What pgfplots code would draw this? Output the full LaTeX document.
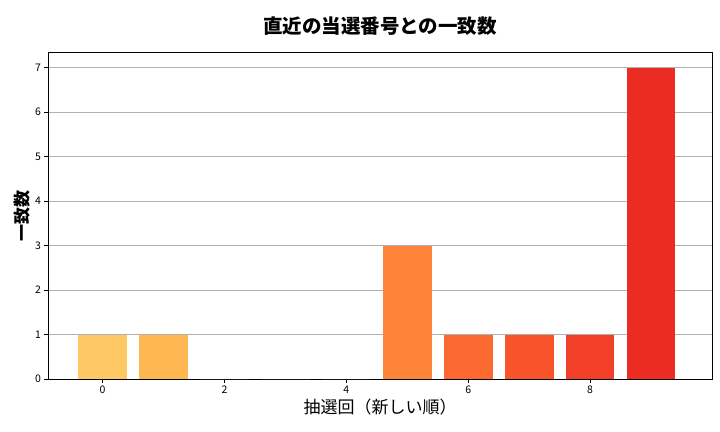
\documentclass[border=0pt]{standalone}
\usepackage{fontspec}
\setmainfont{Noto Sans CJK JP}
\usepackage{pgfplots}
\pgfplotsset{compat=1.18}
\definecolor{c0}{HTML}{FEC965}
\definecolor{c1}{HTML}{FEB751}
\definecolor{c2}{HTML}{FEA546}
\definecolor{c3}{HTML}{FD9540}
\definecolor{c4}{HTML}{FD8A3B}
\definecolor{c5}{HTML}{FD8438}
\definecolor{c6}{HTML}{FC6A31}
\definecolor{c7}{HTML}{F9532C}
\definecolor{c8}{HTML}{F13F28}
\definecolor{c9}{HTML}{EB2C22}
\definecolor{gridc}{HTML}{B0B0B0}
\begin{document}
\begin{tikzpicture}[x=1bp,y=1bp]
\useasboundingbox (-48bp,-53bp) rectangle (672bp,379bp);
\begin{axis}[
  at={(0,0)}, anchor=south west,
  scale only axis, width=664bp, height=327bp,
  xmin=-0.895, xmax=10.0, ymin=0, ymax=7.35,
  xtick={0,2,4,6,8}, ytick={0,1,2,3,4,5,6,7},
  ymajorgrids, grid style={gridc, line width=0.8bp},
  axis line style={line width=0.8bp, black},
  tick style={black, line width=0.8bp},
  tick align=outside, major tick length=3.5bp,
  xtick pos=bottom, ytick pos=left,
  ybar, bar width=0.8, bar shift=0pt,
  ticklabel style={font=\fontsize{10.5bp}{12bp}\selectfont},
  /pgf/number format/assume math mode=true,
  title={\bfseries 直近の当選番号との一致数},
  title style={font=\fontsize{19.5bp}{22bp}\selectfont, yshift=7bp},
  xlabel={抽選回（新しい順）},
  ylabel={\bfseries 一致数},
  label style={font=\fontsize{17bp}{20bp}\selectfont},
  xlabel style={yshift=1.5bp},
  ylabel style={yshift=-2bp},
]
\addplot[fill=c0, draw=none] coordinates {(0,1)};
\addplot[fill=c1, draw=none] coordinates {(1,1)};
\addplot[fill=c2, draw=none] coordinates {(2,0)};
\addplot[fill=c3, draw=none] coordinates {(3,0)};
\addplot[fill=c4, draw=none] coordinates {(4,0)};
\addplot[fill=c5, draw=none] coordinates {(5,3)};
\addplot[fill=c6, draw=none] coordinates {(6,1)};
\addplot[fill=c7, draw=none] coordinates {(7,1)};
\addplot[fill=c8, draw=none] coordinates {(8,1)};
\addplot[fill=c9, draw=none] coordinates {(9,7)};
\end{axis}
\end{tikzpicture}
\end{document}
